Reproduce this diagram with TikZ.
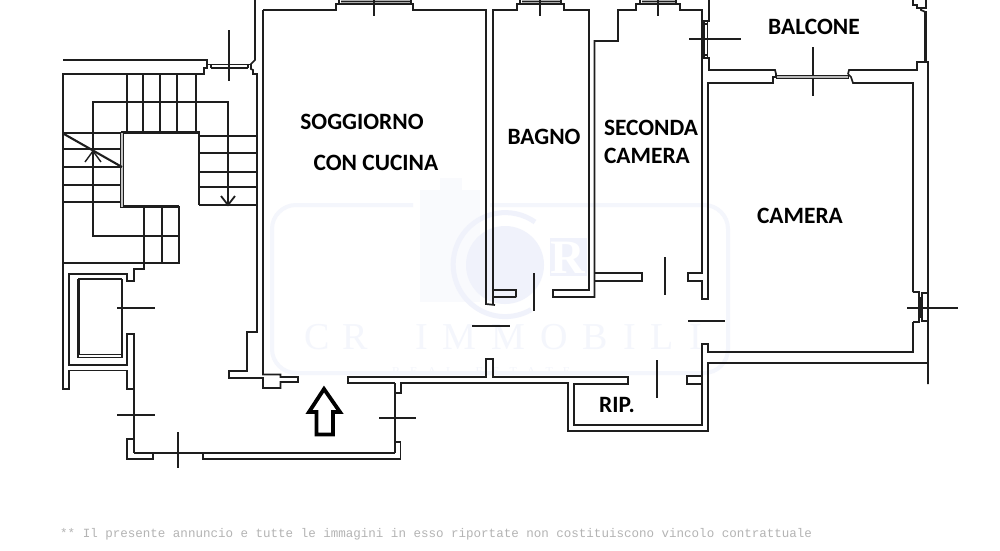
\documentclass[tikz,border=0pt]{standalone}
\usepackage{fontspec}
\setmainfont{Carlito}
\newfontfamily\wmserif{Liberation Serif}
\newfontfamily\footmono{Liberation Mono}
\definecolor{wall}{HTML}{1E1E1E}
\definecolor{wm}{HTML}{F4F6FC}
\definecolor{wmfaint}{HTML}{F9FAFD}
\definecolor{wmdark}{HTML}{F0F2FB}
\definecolor{footgray}{HTML}{B4B4B4}
\tikzset{
  wallline/.style={draw=wall,line width=1.7pt,line join=miter,line cap=butt},
  thin wall/.style={draw=wall,line width=1.4pt},
  tick/.style={draw=wall,line width=1.4pt},
  room/.style={font=\bfseries\fontsize{23.4}{26}\selectfont,text=black,inner sep=0pt},
  glass/.style={draw=wall,fill=gray!55,line width=.6pt},
}
\begin{document}
\begin{tikzpicture}[x=1pt,y=-1pt]
\useasboundingbox (0,0) rectangle (1000,550);
\fill[white] (0,0) rectangle (1000,550);
% watermark
\draw[wm,line width=4pt,rounded corners=24pt] (413,205) -- (272,205) -- (272,373) -- (728,373) -- (728,205) -- (490,205);
\fill[wmfaint] (420,190) rectangle (480,302);
\fill[wmfaint] (440,178) rectangle (462,190);
\fill[wmdark] (505,265) circle (39);
\draw[wmdark,line width=5pt] (535,222) arc (-55:-300:52);
\fill[wmdark] (550,238) rectangle (587,276);
\node[inner sep=0pt,text=white,font=\wmserif\bfseries\fontsize{48}{48}\selectfont] (wmr) at (568,258) {R};
\node[anchor=west,inner sep=0pt,text=wm,font=\wmserif\fontsize{38}{40}\selectfont] (wmcr) at (304,337) {C\kern13pt R};
\node[anchor=west,inner sep=0pt,text=wm,font=\wmserif\fontsize{38}{40}\selectfont] (wmimm) at (415,337) {I\kern15pt M\kern15pt M\kern15pt O\kern15pt B\kern15pt I\kern15pt L\kern15pt I};
\node[anchor=west,inner sep=0pt,text=wm,font=\wmserif\fontsize{12}{14}\selectfont] (wmre) at (392,372) {R\kern10pt E\kern10pt A\kern10pt L\kern22pt E\kern10pt S\kern10pt T\kern10pt A\kern10pt T\kern10pt E};

% stairs
\draw[wallline] (63,60) -- (207,60) -- (207,68) -- (204,68) -- (204,74) -- (63,74) -- (63,389) -- (69,389) -- (69,370.5) -- (127,370.5) -- (127,389) -- (134,389);
\draw[thin wall] (207,64.5) -- (251,64.5) (211,64.5) -- (211,68) (211,68) -- (248,68) (248,64.5) -- (248,68);
\draw[wallline] (255,0) -- (255,60) -- (251,64) -- (251,69) -- (253,70) -- (253,74) -- (257,74) -- (257,332) -- (247,332) -- (247,371) -- (229,371) -- (229,378) -- (263,378) -- (263,388) -- (280.5,388) -- (280.5,382) -- (298,382) -- (298,377) -- (280.5,377) -- (280.5,374.5) -- (263,374.5) -- (263,10);
\foreach \x in {127,143,160,177,196} \draw[thin wall] (\x,74) -- (\x,132);
\draw[thin wall] (179,236) -- (93,236) -- (93,102) -- (228,102) -- (228,205);
\foreach \y in {136,153,172,187,205} \draw[thin wall] (199,\y) -- (257,\y);
\foreach \y in {133,149,167,185,202} \draw[thin wall] (63,\y) -- (122,\y);
\draw[thin wall] (144,206) -- (144,269) (162,206) -- (162,263) (63,263) -- (179,263) -- (179,206);
\draw[draw=wall,line width=2.2pt] (121,132.5) -- (199,132.5) -- (199,205) (122,206.5) -- (179,206.5);
\draw[draw=wall,fill=gray!45,line width=.8pt] (120.5,132) rectangle (123.5,207);
\draw[draw=wall,line width=2.1pt] (64,134) -- (122,167);
\draw[thin wall] (85,162) -- (93,151) -- (101,162);
\draw[draw=wall,line width=1.8pt] (221,196) -- (228,205) -- (235,196);
\draw[tick] (229,30) -- (229,81);

% lift
\draw[wallline] (144,263) -- (144,269) -- (134,269) -- (134,281) -- (127,281) -- (127,274) -- (69,274) -- (69,365) -- (127,365) -- (127,334) -- (134,334) -- (134,453);
\draw[draw=wall,line width=2.4pt] (122,279) -- (79,279) -- (79,355);
\draw[thin wall] (122,279) -- (122,357.5) -- (78,357.5) -- (78,279);
\draw[thin wall] (78,354.5) -- (122,354.5);
\draw[tick] (117,308) -- (155,308) (117,415) -- (155,415);

% lobby
\draw[wallline] (134,439) -- (127,439) -- (127,459) -- (153,459) -- (153,453);
\draw[wallline] (134,453) -- (395,453);
\draw[wallline] (203,453) -- (203,459) -- (400.5,459) -- (400.5,442) -- (395,442) (395,453) -- (395,383);
\draw[tick] (178,432) -- (178,468) (379,418) -- (416,418);
\draw[wallline] (395,383) -- (348,383) -- (348,377) -- (486,377) -- (486,359) -- (493,359) -- (493,377) -- (628,377) -- (628,384) -- (574,384) -- (574,425) -- (702,425) -- (702,384) -- (687,384) -- (687,376) -- (702,376) -- (702,344) -- (708,344) -- (708,352) -- (913,352) -- (913,322);
\draw[wallline] (395,393) -- (401,393) -- (401,383) -- (568,383) -- (568,431) -- (708,431) -- (708,363) -- (928,363);
\draw[wallline] (702,344) -- (702,384);

% arrow
\draw[draw=black,line width=3.8pt,line join=miter] (324,389) -- (309,412) -- (316.5,412) -- (316.5,434.5) -- (333,434.5) -- (333,412) -- (340,412) -- cycle;

% rooms
\draw[wallline] (263,10) -- (336,10) -- (336,4) -- (339,4) -- (339,0) (339,4) -- (411,4) (341,1.5) -- (411,1.5) (411,0) -- (411,4) -- (413,4) -- (413,10) -- (486,10) -- (486,304) -- (495,305);
\draw[wallline] (516,297) -- (493,297) (493,290) -- (516,290) -- (516,297) (493,304) -- (493,10) -- (517,10) -- (517,4) -- (520,4) -- (520,0) (520,4) -- (561,4) (522,1.5) -- (561,1.5) (561,0) -- (561,4) -- (564,4) -- (564,10) -- (589,10) -- (589,290) -- (553,290) -- (553,297) -- (594.5,297) -- (594.5,41) -- (618,41) -- (618,10) -- (636,10) -- (636,4) -- (640,4) -- (640,0) (640,4) -- (676,4) (642,1.5) -- (676,1.5) (676,0) -- (676,4) -- (680,4) -- (680,10) -- (702,10) -- (702,273) -- (688,273) -- (688,281) -- (702,281) -- (702,299) -- (708,299) -- (708,83) -- (773,83) -- (773,77) -- (776,77) -- (776,74) -- (775,70) -- (709,70) -- (709,58) -- (702,58);
\draw[wallline] (594.5,281) -- (642,281) -- (642,273) -- (594.5,273);
\draw[wallline] (702,21) -- (709,21) -- (709,0);
\draw[thin wall] (704,21) -- (704,58) (707.5,21) -- (707.5,58);
\draw[wallline] (704,24) -- (708,24) (704,55) -- (708,55);
\draw[tick] (374,0) -- (374,16) (540,0) -- (540,16) (658,0) -- (658,16);
\draw[tick] (534,273) -- (534,311) (665,257) -- (665,295) (688,321) -- (725,321) (472,326) -- (510,326) (657,360) -- (657,398);
\draw[tick] (689,39) -- (741,39) (813,47) -- (813,96);

% balcone + camera
\draw[glass] (776,75) rectangle (848,78);
\draw[wallline] (848,74) -- (849,70) -- (851,70) -- (917,70) -- (917,62) -- (928,62) -- (928,384);
\draw[wallline] (848,74) -- (851,77) -- (853,83) -- (913,83) -- (913,292);
\draw[draw=wall,line width=2.4pt] (925.5,11) -- (925.5,62);
\draw[wallline] (921,8) -- (921,10) -- (925.5,12);
\draw[wallline] (913,0) -- (913,5) -- (917,5) -- (917,8) -- (926,8) -- (926,0);
\draw[thin wall] (913,292) -- (919,292) -- (919,322) -- (913,322);
\draw[thin wall] (928,293) -- (922,293) -- (922,321) -- (928,321) (920,297) -- (920,318);
\draw[tick] (907,308) -- (958,308);

% labels
\node[room] (soggiorno) at (362,122) {SOGGIORNO};
\node[room] (cucina) at (376,163) {CON CUCINA};
\node[room] (bagno) at (544,137) {BAGNO};
\node[room] (seconda) at (651,128) {SECONDA};
\node[room] (camera2) at (647,156) {CAMERA};
\node[room] (balcone) at (814,27) {BALCONE};
\node[room] (camera) at (800,216) {CAMERA};
\node[room] (rip) at (617,405) {RIP.};
\node[anchor=west,inner sep=0pt,text=footgray,font=\footmono\fontsize{12.53}{14}\selectfont] (foot) at (60,534) {** Il presente annuncio e tutte le immagini in esso riportate non costituiscono vincolo contrattuale};
\end{tikzpicture}
\end{document}
